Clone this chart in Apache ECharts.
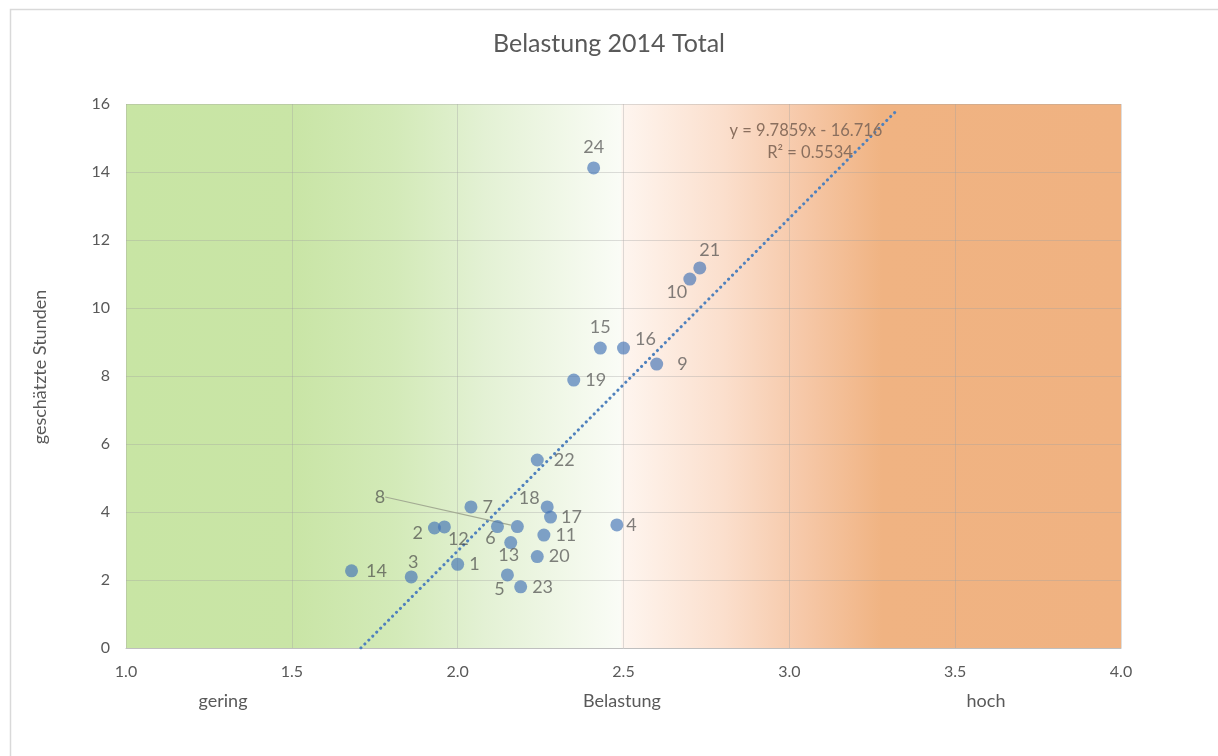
<!DOCTYPE html>
<html>
<head>
<meta charset="utf-8">
<script src="https://cdn.jsdelivr.net/npm/echarts@6/dist/echarts.min.js"></script>
<style>html,body{margin:0;padding:0;background:#fff}#c{width:1218px;height:756px}</style>
</head>
<body>
<div id="c"></div>
<script>
// ---- data ----
const pointIds = [1,2,3,4,5,6,7,8,9,10,11,12,13,14,15,16,17,18,19,20,21,22,23,24];
const belastung = [2.00,1.93,1.86,2.48,2.15,2.12,2.04,2.18,2.60,2.70,2.26,1.96,2.16,1.68,2.43,2.50,2.28,2.27,2.35,2.24,2.73,2.24,2.19,2.41];
const stunden   = [2.46,3.53,2.09,3.62,2.15,3.57,4.15,3.57,8.35,10.85,3.32,3.56,3.10,2.27,8.82,8.82,3.85,4.15,7.88,2.69,11.18,5.53,1.80,14.12];
const trendSlope = 9.7859;
const trendIntercept = -16.716;
const trendR2 = 0.5534;
const trendRange = [1.7082, 3.325];
const xTicks = ['1.0','1.5','2.0','2.5','3.0','3.5','4.0'];
const yTicks = [0,2,4,6,8,10,12,14,16];
const xBandLabels = ['gering','Belastung','hoch'];
const yTitle = 'geschätzte Stunden';
const chartTitle = 'Belastung 2014 Total';

// ---- label placement (style) ----
const labelStyle = {
  1:{position:'right'}, 2:{position:'left',offset:[0,5]}, 3:{position:'top',offset:[2,6]},
  4:{position:'right',distance:3}, 5:{position:'bottom',offset:[-8,-6]},
  6:{position:'bottom',offset:[-7,-9]}, 7:{position:'right'},
  8:{position:'right', custom:true}, 9:{position:'right',distance:14},
  10:{position:'bottom',offset:[-13,-7]}, 11:{position:'right'},
  12:{position:'right',offset:[-8,12]}, 13:{position:'bottom',offset:[-2,-8]},
  14:{position:'right',distance:8}, 15:{position:'top'}, 16:{position:'right',offset:[0,-9]},
  17:{position:'right',distance:4}, 18:{position:'left',offset:[4,-9]}, 19:{position:'right'},
  20:{position:'right'}, 21:{position:'top',offset:[10,3]}, 22:{position:'right',distance:10},
  23:{position:'right'}, 24:{position:'top'}
};

const FONT = 'Lato, "Open Sans", sans-serif';
const TXT = '#595959';

const scatterData = pointIds.map((id, i) => {
  const ls = labelStyle[id] || {position:'right'};
  const item = {
    value: [belastung[i], stunden[i]],
    name: String(id),
    label: {position: ls.position, distance: ls.distance != null ? ls.distance : 5}
  };
  if (ls.custom) item.labelLine = {show: true, lineStyle: {color: '#a3ab93', width: 1.2}};
  return item;
});
const idx8 = pointIds.indexOf(8);

const trendData = trendRange.map(x => [x, trendSlope * x + trendIntercept]);

const chart = echarts.init(document.getElementById('c'), null, {renderer: 'canvas'});

const bg = new echarts.graphic.LinearGradient(0, 0, 1, 0, [
  {offset: 0, color: '#c8e5a4'},
  {offset: 0.17, color: '#c9e5a6'},
  {offset: 0.27, color: '#d3eab8'},
  {offset: 0.36, color: '#e3f1d4'},
  {offset: 0.497, color: '#fafcf6'},
  {offset: 0.499, color: '#fef5ef'},
  {offset: 0.6, color: '#fbdfcd'},
  {offset: 0.68, color: '#f6c8a8'},
  {offset: 0.76, color: '#f0b382'},
  {offset: 1, color: '#f0b281'}
]);

chart.setOption({
  backgroundColor: '#ffffff',
  animation: false,
  title: {
    text: chartTitle, left: 'center', top: 26,
    textStyle: {fontFamily: FONT, fontSize: 25, fontWeight: 'normal', color: TXT}
  },
  grid: {left: 126, right: 97, top: 104, bottom: 108, show: true, backgroundColor: bg, borderWidth: 0},
  xAxis: {
    type: 'value', min: 1, max: 4, interval: 0.5,
    axisLine: {show: true, lineStyle: {color: '#bfbfbf'}},
    axisTick: {show: false},
    splitLine: {show: true, lineStyle: {color: 'rgba(160,160,160,0.35)'}},
    axisLabel: {margin: 16, color: TXT, fontFamily: FONT, fontSize: 16,
      formatter: v => xTicks[Math.round((v - 1) / 0.5)] || v.toFixed(1)}
  },
  yAxis: {
    type: 'value', min: yTicks[0], max: yTicks[yTicks.length-1], interval: 2,
    axisLine: {show: false}, axisTick: {show: false},
    splitLine: {show: true, lineStyle: {color: 'rgba(160,160,160,0.35)'}},
    axisLabel: {margin: 16, color: TXT, fontFamily: FONT, fontSize: 16}
  },
  graphic: [
    {type: 'rect', left: 8, top: 7, shape: {width: 1240, height: 780}, style: {fill: 'none', stroke: '#d9d9d9', lineWidth: 1.5}, silent: true, z: -1},
    {type: 'text', x: 40, y: 367, rotation: Math.PI / 2, style: {text: yTitle, fill: TXT, font: '18px ' + FONT, align: 'center', verticalAlign: 'middle'}},
    {type: 'text', x: 223, y: 701, style: {text: xBandLabels[0], fill: TXT, font: '18px ' + FONT, align: 'center', verticalAlign: 'middle'}},
    {type: 'text', x: 622, y: 701, style: {text: xBandLabels[1], fill: TXT, font: '18px ' + FONT, align: 'center', verticalAlign: 'middle'}},
    {type: 'text', x: 986, y: 701, style: {text: xBandLabels[2], fill: TXT, font: '18px ' + FONT, align: 'center', verticalAlign: 'middle'}},
    {type: 'text', x: 806, y: 131, z: 10, style: {text: 'y = ' + trendSlope + 'x - ' + Math.abs(trendIntercept), fill: '#8a6f5e', font: '16.5px ' + FONT, align: 'center', verticalAlign: 'middle'}},
    {type: 'text', x: 810, y: 153, z: 10, style: {text: 'R² = ' + trendR2, fill: '#8a6f5e', font: '16.5px ' + FONT, align: 'center', verticalAlign: 'middle'}}
  ],
  series: [
    {
      type: 'line', data: trendData, showSymbol: false, symbol: 'none', silent: true,
      lineStyle: {color: '#4f81bd', width: 3, type: [0.1, 5.5], cap: 'round'}, z: 2
    },
    {
      type: 'scatter', data: scatterData, symbolSize: 13, z: 3,
      itemStyle: {color: 'rgba(66,114,182,0.82)'},
      label: {show: true, formatter: p => p.name, color: 'rgba(70,70,70,0.85)', fontFamily: FONT, fontSize: 18},
      labelLayout: function (params) {
        if (params.dataIndex === idx8) {
          return {x: 380, y: 497, align: 'center', verticalAlign: 'middle'};
        }
        const ls = labelStyle[pointIds[params.dataIndex]];
        const off = (ls && ls.offset) || [0, 0];
        return {dx: off[0], dy: off[1]};
      }
    }
  ]
});
</script>
</body>
</html>
